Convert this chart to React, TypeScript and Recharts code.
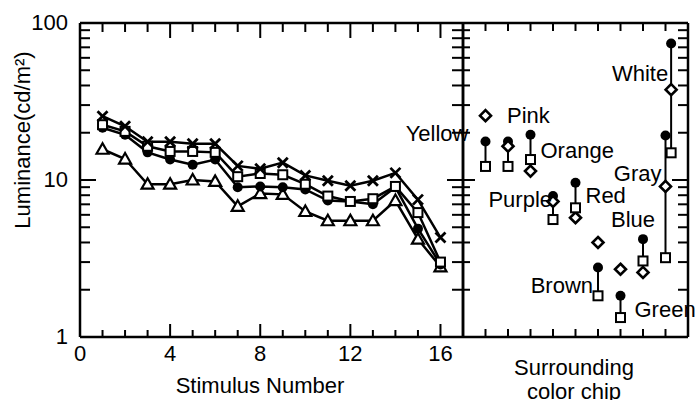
import React from 'react'
import { ComposedChart, Line, XAxis, YAxis, ScatterChart, Scatter, ErrorBar, Label } from 'recharts'

// left panel: luminance per stimulus, four conditions
const stimulus = [1, 2, 3, 4, 5, 6, 7, 8, 9, 10, 11, 12, 13, 14, 15, 16]
const crossLum = [25.5, 22, 17.5, 17.5, 17, 17, 12.3, 11.8, 12.9, 10.7, 9.9, 9.2, 9.9, 11.1, 7.5, 4.3]
const squareLum = [22.5, 20.4, 16.4, 15.2, 15.2, 15.0, 10.5, 11.0, 10.8, 9.4, 7.9, 7.3, 7.6, 9.1, 6.2, 3.0]
const circleLum = [21.5, 19.4, 15.0, 13.5, 12.5, 13.5, 9.0, 9.1, 9.0, 8.7, 7.4, 7.3, 7.0, 9.0, 4.9, 2.9]
const triangleLum = [15.7, 13.6, 9.4, 9.4, 10, 9.8, 6.8, 8.2, 8.1, 6.3, 5.5, 5.5, 5.5, 7.4, 4.2, 2.8]

// right panel: surrounding color chips
const chips = ['Yellow', 'Pink', 'Orange', 'Purple', 'Red', 'Brown', 'Green', 'Blue', 'Gray', 'White']
const chipPos = [1, 2, 3, 4, 5, 6, 7, 8, 9, 9.25]
const chipCircle = [17.6, 17.6, 19.4, 7.9, 9.6, 2.77, 1.83, 4.2, 19.2, 74]
const chipDiamond = [25.7, 16.4, 11.4, 7.3, 5.75, 4.0, 2.7, 2.58, 9.1, 37.6]
const chipSquare = [12.2, 12.2, 13.5, 5.6, 6.65, 1.83, 1.33, 3.05, 3.2, 14.9]

// tick values
const stimLabels = [0, 4, 8, 12, 16]
const stimTicks = [1, 2, 3, 4, 5, 6, 7, 8, 9, 10, 11, 12, 13, 14, 15, 16]
const chipTicks = [1, 2, 3, 4, 5, 6, 7, 8, 9]
const lumLabels = [1, 10, 100]
const lumTicks = [2, 3, 4, 5, 6, 7, 8, 9, 10, 20, 30, 40, 50, 60, 70, 80, 90]

// where each chip name sits relative to its filled circle
const chipLabelOffset: Record<string, [number, number, 'start' | 'end']> = {
  Yellow: [-17, -8, 'end'],
  Pink: [-1, -26, 'start'],
  Orange: [10, 15, 'start'],
  Purple: [-1, 3, 'end'],
  Red: [10, 12, 'start'],
  Brown: [-5, 17, 'end'],
  Green: [14, 13, 'start'],
  Blue: [12, -20, 'end'],
  Gray: [-4, 37, 'end'],
  White: [-3, 29, 'end'],
}

const font = { fontFamily: '"Liberation Sans", Arial, Helvetica, sans-serif', fontSize: 22, fill: '#000' }
const axisLine = { stroke: '#000', strokeWidth: 2.5 }

const rows = stimulus.map((s, i) => ({
  s,
  cross: crossLum[i],
  square: squareLum[i],
  circle: circleLum[i],
  triangle: triangleLum[i],
}))

const circleData = chips.map((name, i) => ({
  name,
  x: chipPos[i],
  y: chipCircle[i],
  err: [chipCircle[i] - chipSquare[i], 0],
}))
const diamondData = chips.map((name, i) => ({ name, x: chipPos[i], y: chipDiamond[i] }))
const squareData = chips.map((name, i) => ({ name, x: chipPos[i], y: chipSquare[i] }))

// anchor points on the frame for the inward tick marks
const leftBottom = stimTicks.map((s) => ({ s, lum: 1, major: s % 4 === 0 }))
const leftTop = stimTicks.map((s) => ({ s, lum: 100, major: s % 4 === 0 }))
const leftLeft = lumTicks.map((lum) => ({ s: 0, lum, major: lum === 10 }))
const leftRight = lumTicks.map((lum) => ({ s: 17, lum, major: lum === 10 }))
const rightBottom = chipTicks.map((x) => ({ x, y: 1, major: false }))
const rightTop = chipTicks.map((x) => ({ x, y: 100, major: false }))
const rightLeft = lumTicks.map((y) => ({ x: 0, y, major: y === 10 }))
const rightRight = lumTicks.map((y) => ({ x: 10, y, major: y === 10 }))

// markers
const CrossDot = (p: any) => (
  <g key={`x${p.index}`}>
    <line x1={p.cx - 5} y1={p.cy - 5} x2={p.cx + 5} y2={p.cy + 5} stroke="#000" strokeWidth={2.8} />
    <line x1={p.cx - 5} y1={p.cy + 5} x2={p.cx + 5} y2={p.cy - 5} stroke="#000" strokeWidth={2.8} />
  </g>
)
const SquareDot = (p: any) => (
  <rect key={`s${p.index}`} x={p.cx - 4.5} y={p.cy - 4.5} width={9} height={9} fill="#fff" stroke="#000" strokeWidth={2} />
)
const CircleDot = (p: any) => <circle key={`c${p.index}`} cx={p.cx} cy={p.cy} r={5} fill="#000" />
const TriangleDot = (p: any) => (
  <polygon
    key={`t${p.index}`}
    points={`${p.cx},${p.cy - 6} ${p.cx - 6},${p.cy + 4.5} ${p.cx + 6},${p.cy + 4.5}`}
    fill="#fff"
    stroke="#000"
    strokeWidth={2.2}
  />
)
const DiamondDot = (p: any) => (
  <polygon
    points={`${p.cx},${p.cy - 5.5} ${p.cx + 5.5},${p.cy} ${p.cx},${p.cy + 5.5} ${p.cx - 5.5},${p.cy}`}
    fill="#fff"
    stroke="#000"
    strokeWidth={2.6}
  />
)
const ChipLabel = (p: any) => {
  const [dx, dy, anchor] = chipLabelOffset[p.payload.name]
  return (
    <text x={p.cx + dx} y={p.cy + dy + 8} textAnchor={anchor} {...font}>
      {p.payload.name}
    </text>
  )
}

// short tick mark pointing into the plot from a frame point
function tickMark(dx: number, dy: number, minor: number, major: number) {
  return (p: any) => {
    const len = p.payload.major ? major : minor
    return <line x1={p.cx} y1={p.cy} x2={p.cx + dx * len} y2={p.cy + dy * len} stroke="#000" strokeWidth={2} />
  }
}
const LBottomMark = tickMark(0, -1, 7, 13)
const LTopMark = tickMark(0, 1, 9, 15)
const LLeftMark = tickMark(1, 0, 10, 16)
const LRightMark = tickMark(-1, 0, 11, 16)
const RBottomMark = tickMark(0, -1, 8, 8)
const RTopMark = tickMark(0, 1, 8, 8)
const RLeftMark = tickMark(1, 0, 7, 12)
const RRightMark = tickMark(-1, 0, 10, 16)

// tick labels
const XLabel = ({ x, y, payload }: any) => (
  <text x={x} y={y + 24} textAnchor="middle" {...font}>
    {payload.value}
  </text>
)
const YLabel = ({ x, y, payload }: any) => (
  <text x={x - 12} y={y + 7} textAnchor="end" {...font}>
    {payload.value}
  </text>
)

const frame = { tickSize: 0, tickMargin: 0, tickLine: false, interval: 0 as const, axisLine }

export default function App() {
  return (
    <div style={{ position: 'absolute', left: 0, top: 0, width: 700, height: 400, background: '#fff', overflow: 'hidden' }}>
      <div style={{ position: 'absolute', left: 0, top: 0 }}>
        <ComposedChart width={470} height={400} data={rows} margin={{ top: 22, right: 6, bottom: 62, left: 79 }}>
          <XAxis xAxisId="b" dataKey="s" type="number" domain={[0, 17]} ticks={stimLabels} height={1} {...frame} tick={<XLabel />}>
            <Label
              content={() => (
                <text x={260} y={393} textAnchor="middle" {...font}>
                  Stimulus Number
                </text>
              )}
            />
          </XAxis>
          <XAxis xAxisId="t" orientation="top" type="number" domain={[0, 17]} ticks={stimLabels} height={1} {...frame} tick={false} />
          <YAxis yAxisId="l" scale="log" type="number" domain={[1, 100]} ticks={lumLabels} width={1} {...frame} tick={<YLabel />}>
            <Label
              content={() => (
                <text x={30} y={140} textAnchor="middle" transform="rotate(-90 30 140)" {...font}>
                  Luminance(cd/m²)
                </text>
              )}
            />
          </YAxis>
          <YAxis yAxisId="r" orientation="right" scale="log" type="number" domain={[1, 100]} ticks={lumLabels} width={1} {...frame} tick={false} />
          <Scatter xAxisId="b" yAxisId="l" data={leftBottom} dataKey="lum" shape={LBottomMark} isAnimationActive={false} />
          <Scatter xAxisId="b" yAxisId="l" data={leftTop} dataKey="lum" shape={LTopMark} isAnimationActive={false} />
          <Scatter xAxisId="b" yAxisId="l" data={leftLeft} dataKey="lum" shape={LLeftMark} isAnimationActive={false} />
          <Scatter xAxisId="b" yAxisId="l" data={leftRight} dataKey="lum" shape={LRightMark} isAnimationActive={false} />
          <Line xAxisId="b" yAxisId="l" dataKey="triangle" stroke="#000" strokeWidth={2.5} dot={TriangleDot} isAnimationActive={false} />
          <Line xAxisId="b" yAxisId="l" dataKey="circle" stroke="#000" strokeWidth={2.5} dot={CircleDot} isAnimationActive={false} />
          <Line xAxisId="b" yAxisId="l" dataKey="square" stroke="#000" strokeWidth={2.5} dot={SquareDot} isAnimationActive={false} />
          <Line xAxisId="b" yAxisId="l" dataKey="cross" stroke="#000" strokeWidth={2.5} dot={CrossDot} isAnimationActive={false} />
        </ComposedChart>
      </div>
      <div style={{ position: 'absolute', left: 400, top: 0 }}>
        <ScatterChart width={300} height={400} margin={{ top: 22, right: 11, bottom: 62, left: 62 }}>
          <XAxis xAxisId="b" dataKey="x" type="number" domain={[0, 10]} ticks={chipTicks} height={1} {...frame} tick={false}>
            <Label
              content={() => (
                <g>
                  <text x={174} y={375} textAnchor="middle" {...font}>
                    Surrounding
                  </text>
                  <text x={174} y={399} textAnchor="middle" {...font}>
                    color chip
                  </text>
                </g>
              )}
            />
          </XAxis>
          <XAxis xAxisId="t" orientation="top" type="number" domain={[0, 10]} ticks={chipTicks} height={1} {...frame} tick={false} />
          <YAxis yAxisId="l" dataKey="y" scale="log" type="number" domain={[1, 100]} ticks={lumLabels} width={1} {...frame} tick={false} />
          <YAxis yAxisId="r" orientation="right" scale="log" type="number" domain={[1, 100]} ticks={lumLabels} width={1} {...frame} tick={false} />
          <Scatter xAxisId="b" yAxisId="l" data={rightBottom} dataKey="y" shape={RBottomMark} isAnimationActive={false} />
          <Scatter xAxisId="b" yAxisId="l" data={rightTop} dataKey="y" shape={RTopMark} isAnimationActive={false} />
          <Scatter xAxisId="b" yAxisId="l" data={rightLeft} dataKey="y" shape={RLeftMark} isAnimationActive={false} />
          <Scatter xAxisId="b" yAxisId="l" data={rightRight} dataKey="y" shape={RRightMark} isAnimationActive={false} />
          <Scatter xAxisId="b" yAxisId="l" data={circleData} dataKey="y" shape={CircleDot} isAnimationActive={false}>
            <ErrorBar dataKey="err" direction="y" width={0} stroke="#000" strokeWidth={2} />
          </Scatter>
          <Scatter xAxisId="b" yAxisId="l" data={diamondData} dataKey="y" shape={DiamondDot} isAnimationActive={false} />
          <Scatter xAxisId="b" yAxisId="l" data={squareData} dataKey="y" shape={SquareDot} isAnimationActive={false} />
          <Scatter xAxisId="b" yAxisId="l" data={circleData} dataKey="y" shape={ChipLabel} isAnimationActive={false} />
        </ScatterChart>
      </div>
    </div>
  )
}
